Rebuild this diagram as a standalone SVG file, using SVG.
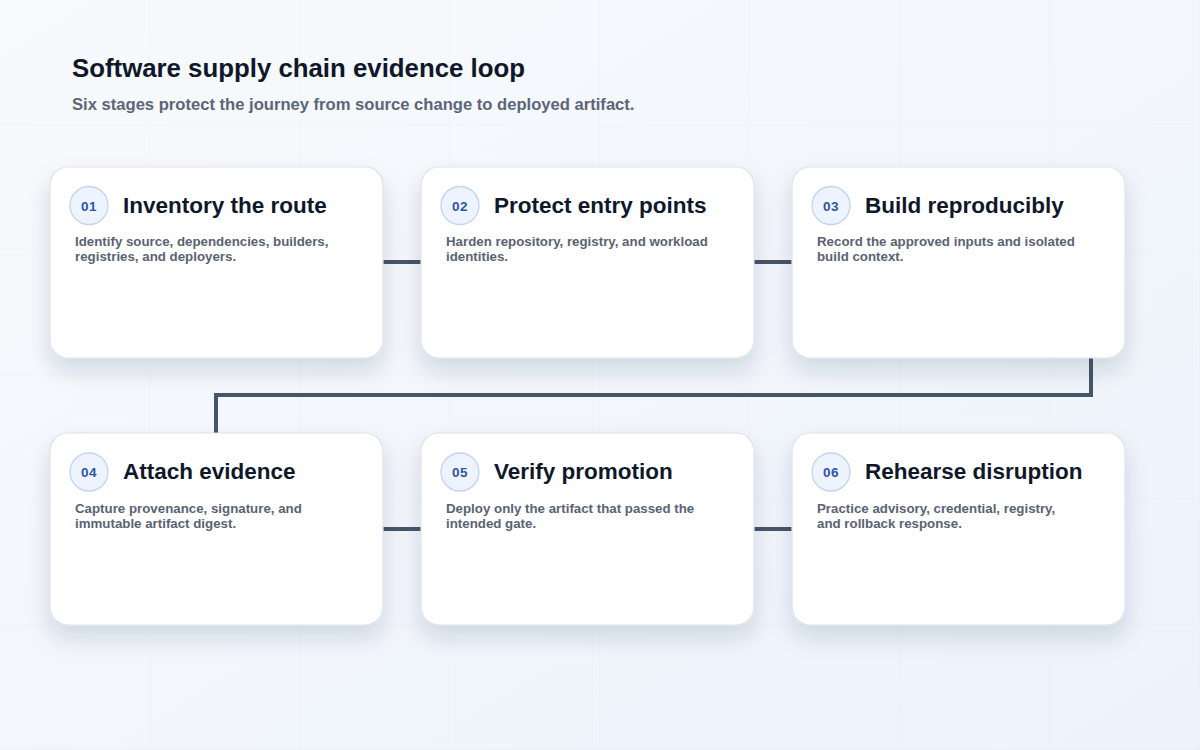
<svg xmlns="http://www.w3.org/2000/svg" width="1200" height="750" viewBox="0 0 1200 750">
  <defs>
    <linearGradient id="bg" x1="0" y1="0" x2="1" y2="1">
      <stop offset="0" stop-color="#f8fafc"/>
      <stop offset="1" stop-color="#edf3fc"/>
    </linearGradient>
    <pattern id="grid" width="150" height="125" patternUnits="userSpaceOnUse">
      <path d="M150 0V125M0 125H150" fill="none" stroke="#e6ebf2" stroke-width="1" opacity="0.7"/>
    </pattern>
    <filter id="shadow" x="-20%" y="-20%" width="140%" height="170%">
      <feDropShadow dx="0" dy="12" stdDeviation="11" flood-color="#1e293b" flood-opacity="0.15"/>
    </filter>
  </defs>
  <style>
    .card { fill: #ffffff; stroke: #dde3ec; stroke-width: 1.2; filter: url(#shadow); }
    .badge { fill: #eef4ff; stroke: #c4d4ee; stroke-width: 1.3; }
    .num { font-family: "Liberation Sans", Arial, sans-serif; font-size: 13.5px; font-weight: 700; fill: #2f55a4; text-anchor: middle; letter-spacing: 0.5px; }
    .ttl { font-family: "Liberation Sans", Arial, sans-serif; font-size: 22.5px; font-weight: 700; fill: #0f172a; }
    .desc { font-family: "Liberation Sans", Arial, sans-serif; font-size: 13.3px; font-weight: 700; fill: #596373; }
    .conn { fill: none; stroke: #475569; stroke-width: 4; }
    .h1 { font-family: "Liberation Sans", Arial, sans-serif; font-size: 25.8px; font-weight: 700; fill: #0f172a; }
    .sub { font-family: "Liberation Sans", Arial, sans-serif; font-size: 16.6px; font-weight: 700; fill: #5b6678; }
  </style>
  <rect width="1200" height="750" fill="url(#bg)"/>
  <rect width="1200" height="750" fill="url(#grid)"/>

  <text class="h1" x="72" y="77">Software supply chain evidence loop</text>
  <text class="sub" x="72" y="110">Six stages protect the journey from source change to deployed artifact.</text>

  <g id="connectors">
    <path class="conn" d="M383 262H421"/>
    <path class="conn" d="M754 262H792"/>
    <path class="conn" d="M1091 358V395H216V433"/>
    <path class="conn" d="M383 529H421"/>
    <path class="conn" d="M754 529H792"/>
  </g>

  <g id="node-01">
    <rect class="card" x="50" y="167" width="333" height="191" rx="18"/>
    <circle class="badge" cx="89" cy="205.5" r="19"/>
    <text class="num" x="89" y="210.5">01</text>
    <text class="ttl" x="123" y="213">Inventory the route</text>
    <text class="desc" x="75" y="246">Identify source, dependencies, builders,</text>
    <text class="desc" x="75" y="261">registries, and deployers.</text>
  </g>
  <g id="node-02">
    <rect class="card" x="421" y="167" width="333" height="191" rx="18"/>
    <circle class="badge" cx="460" cy="205.5" r="19"/>
    <text class="num" x="460" y="210.5">02</text>
    <text class="ttl" x="494" y="213">Protect entry points</text>
    <text class="desc" x="446" y="246">Harden repository, registry, and workload</text>
    <text class="desc" x="446" y="261">identities.</text>
  </g>
  <g id="node-03">
    <rect class="card" x="792" y="167" width="333" height="191" rx="18"/>
    <circle class="badge" cx="831" cy="205.5" r="19"/>
    <text class="num" x="831" y="210.5">03</text>
    <text class="ttl" x="865" y="213">Build reproducibly</text>
    <text class="desc" x="817" y="246">Record the approved inputs and isolated</text>
    <text class="desc" x="817" y="261">build context.</text>
  </g>
  <g id="node-04">
    <rect class="card" x="50" y="433" width="333" height="192" rx="18"/>
    <circle class="badge" cx="89" cy="472" r="19"/>
    <text class="num" x="89" y="477">04</text>
    <text class="ttl" x="123" y="479">Attach evidence</text>
    <text class="desc" x="75" y="513">Capture provenance, signature, and</text>
    <text class="desc" x="75" y="528">immutable artifact digest.</text>
  </g>
  <g id="node-05">
    <rect class="card" x="421" y="433" width="333" height="192" rx="18"/>
    <circle class="badge" cx="460" cy="472" r="19"/>
    <text class="num" x="460" y="477">05</text>
    <text class="ttl" x="494" y="479">Verify promotion</text>
    <text class="desc" x="446" y="513">Deploy only the artifact that passed the</text>
    <text class="desc" x="446" y="528">intended gate.</text>
  </g>
  <g id="node-06">
    <rect class="card" x="792" y="433" width="333" height="192" rx="18"/>
    <circle class="badge" cx="831" cy="472" r="19"/>
    <text class="num" x="831" y="477">06</text>
    <text class="ttl" x="865" y="479">Rehearse disruption</text>
    <text class="desc" x="817" y="513">Practice advisory, credential, registry,</text>
    <text class="desc" x="817" y="528">and rollback response.</text>
  </g>
</svg>
